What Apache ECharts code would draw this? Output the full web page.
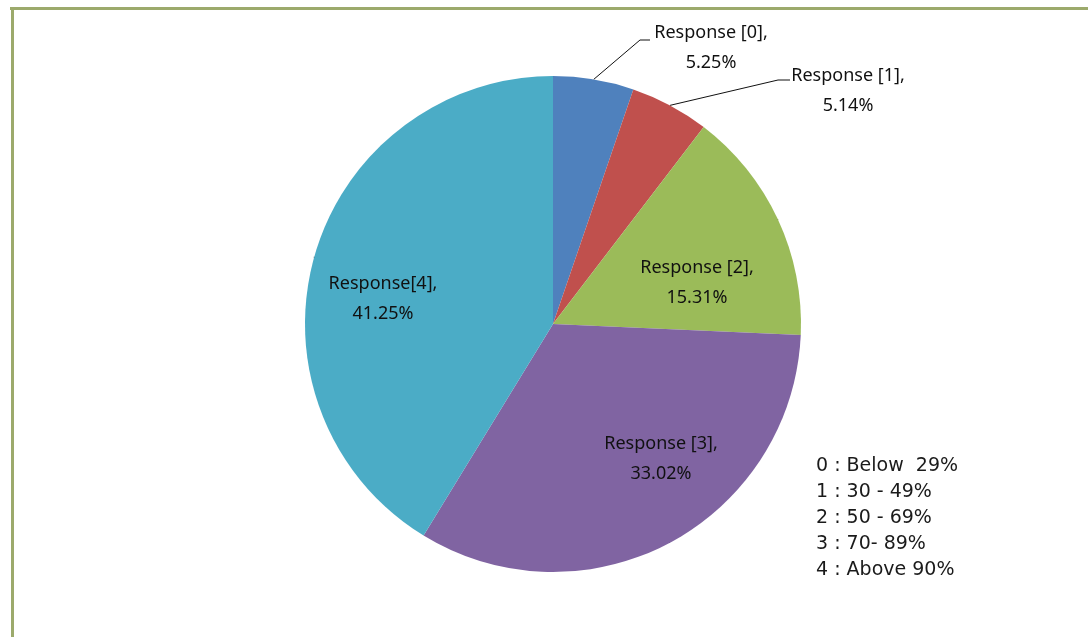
<!DOCTYPE html>
<html>
<head>
<meta charset="utf-8">
<script src="https://cdn.jsdelivr.net/npm/echarts@6/dist/echarts.min.js"></script>
<style>
html,body{margin:0;padding:0;background:#fff;}
#chart{width:1088px;height:637px;}
</style>
</head>
<body>
<div id="chart"></div>
<script>
const categories = ['Response [0]', 'Response [1]', 'Response [2]', 'Response [3]', 'Response[4]'];
const values = [5.25, 5.14, 15.31, 33.02, 41.25];
const colors = ['#4F81BD', '#C0504D', '#9BBB59', '#8064A2', '#4BACC6'];
const legendLines = ['0 : Below  29%', '1 : 30 - 49%', '2 : 50 - 69%', '3 : 70- 89%', '4 : Above 90%'];

// label placement (layout only)
const labelPos = [
  {x: 711, y: 48, line: [[650, 40], [640, 40]]},
  {x: 848, y: 91, line: [[790, 80], [778, 80]]},
  {x: 697, y: 283},
  {x: 661, y: 459},
  {x: 383, y: 299}
];

const chart = echarts.init(document.getElementById('chart'));
const font = '"Noto Sans", sans-serif';

chart.setOption({
  backgroundColor: '#ffffff',
  animation: false,
  graphic: [
    {type: 'rect', shape: {x: 10, y: 7, width: 1078, height: 3}, style: {fill: '#9CAA6C'}},
    {type: 'rect', shape: {x: 11, y: 7, width: 3, height: 630}, style: {fill: '#9CAA6C'}},
    {
      type: 'text', left: 816, top: 453,
      style: {
        text: legendLines.join('\n'),
        font: '19px "DejaVu Sans", sans-serif',
        fill: '#1a1a1a',
        lineHeight: 26
      }
    }
  ],
  series: [{
    type: 'pie',
    center: [553, 324],
    radius: [0, 248],
    startAngle: 90,
    clockwise: true,
    data: categories.map((c, i) => ({name: c, value: values[i], itemStyle: {color: colors[i]}})),
    label: {
      show: true,
      formatter: '{b},\n{c}%',
      fontFamily: font,
      fontSize: 18,
      color: '#111',
      lineHeight: 30,
      align: 'center'
    },
    labelLine: {show: true, lineStyle: {color: '#111', width: 1}, length: 10, length2: 10},
    labelLayout: function (params) {
      const p = labelPos[params.dataIndex];
      const res = {x: p.x, y: p.y, align: 'center', verticalAlign: 'middle'};
      if (p.line && params.labelLinePoints) {
        const start = params.labelLinePoints[0];
        res.labelLinePoints = [start, p.line[1], p.line[0]];
      }
      return res;
    },
    emphasis: {disabled: true}
  }]
});
</script>
</body>
</html>
